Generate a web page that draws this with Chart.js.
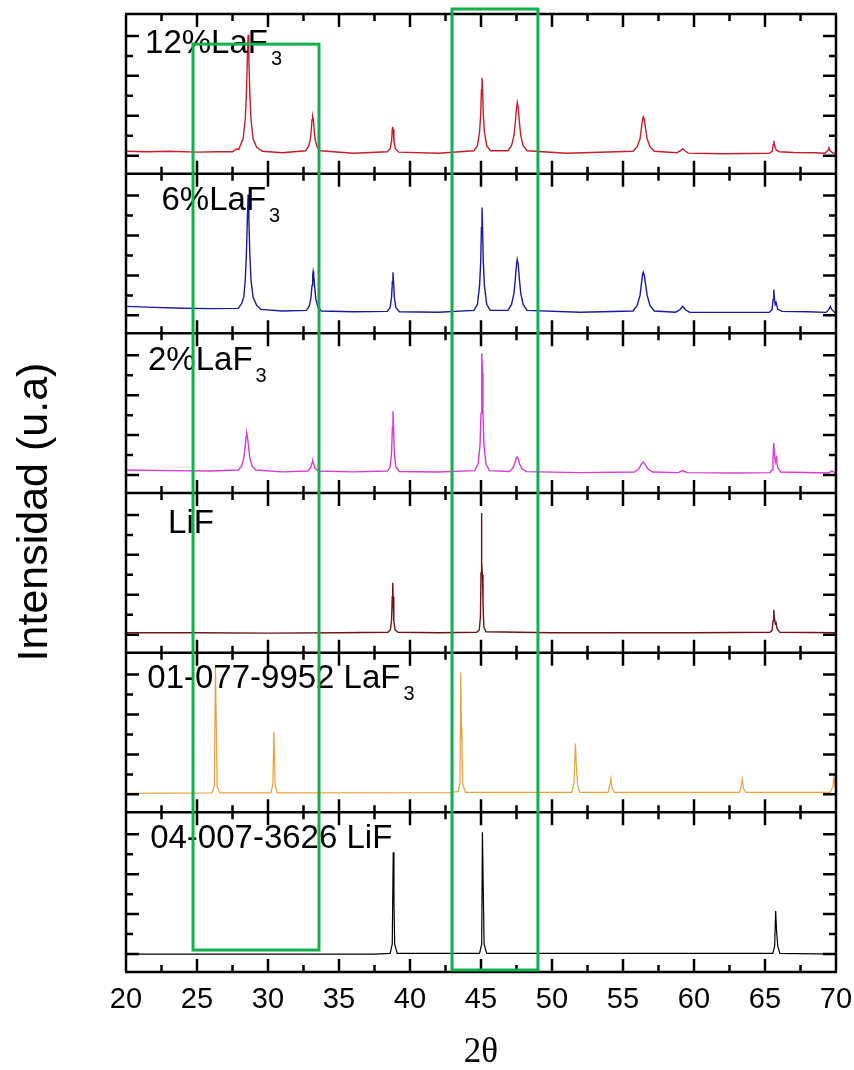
<!DOCTYPE html>
<html>
<head>
<meta charset="utf-8">
<script src="https://cdn.jsdelivr.net/npm/chart.js@4.4.0/dist/chart.umd.min.js"></script>
<style>
  html, body { margin: 0; padding: 0; background: #fff; }
  #wrap { width: 854px; height: 1070px; }
</style>
</head>
<body>
<div id="wrap"><canvas id="xrd" width="854" height="1070"></canvas></div>
<script>
// XRD patterns: 2theta vs intensity, each panel in its own units (baseline ~1, panel top = 8)
const xMin = 20, xMax = 70, xStep = 5;
const panelNames = ["12%LaF", "6%LaF", "2%LaF", "LiF", "01-077-9952 LaF", "04-007-3626 LiF"];
const panelSubs = ["3", "3", "3", "", "3", ""];
const panelColors = ["#c41e2a", "#1a1a9c", "#d43cd4", "#6e1414", "#e9a23e", "#000000"];

const lafe12 = [[20,1.12],[21.5,1.1],[23,1.12],[25,1.08],[26.5,1.1],[27.5,1.1],[27.8,1.25],[27.95,1.22],
  [28.0,1.32],[28.25,1.75],[28.4,2.75],[28.48,4.0],[28.55,5.85],[28.6,6.96],[28.65,5.85],[28.72,4.0],[28.8,2.75],[28.95,1.75],[29.2,1.32],[29.6,1.12],
  [31,1.05],[32.65,1.15],[32.85,1.35],[32.98,1.7],[33.05,2.2],[33.1,2.7],[33.15,2.86],[33.2,2.7],[33.25,2.2],[33.32,1.7],[33.45,1.35],[33.7,1.15],
  [36,1.02],[38.4,1.1],[38.6,1.25],[38.7,1.6],[38.75,2.2],[38.78,2.35],[38.82,2.2],[38.87,1.6],[38.97,1.25],[39.2,1.08],
  [42,1.02],[44.5,1.15],[44.75,1.4],[44.9,2.1],[44.98,3.0],[45.03,4.2],[45.07,4.8],[45.11,4.2],[45.16,3.0],[45.24,2.1],[45.4,1.4],[45.65,1.15],
  [46.9,1.15],[47.15,1.4],[47.32,1.9],[47.42,2.6],[47.5,3.3],[47.56,3.56],[47.62,3.3],[47.7,2.6],[47.8,1.9],[47.97,1.4],[48.25,1.15],
  [51,1.02],[55.7,1.12],[56.0,1.35],[56.2,1.75],[56.3,2.3],[56.38,2.75],[56.43,2.85],[56.5,2.7],[56.58,2.3],[56.7,1.75],[56.9,1.35],[57.2,1.12],
  [58.8,1.05],[59.05,1.15],[59.2,1.25],[59.35,1.15],[59.6,1.03],[62,1.0],
  [65.3,1.02],[65.5,1.12],[65.58,1.45],[65.63,1.65],[65.68,1.4],[65.78,1.2],[66.0,1.1],[67,1.06],[68.5,1.05],
  [69.2,1.02],[69.42,1.15],[69.5,1.3],[69.58,1.15],[69.8,1.03],[70,1.02]];
const lafe6 = [[20,1.35],[22,1.3],[24,1.26],[26,1.24],[27.9,1.25],
  [28.15,1.5],[28.3,1.85],[28.4,2.7],[28.48,4.0],[28.55,5.8],[28.6,6.96],[28.65,5.8],[28.72,4.0],[28.8,2.7],[28.95,1.8],[29.2,1.4],[29.5,1.2],
  [31,1.12],[32.7,1.15],[32.9,1.35],[33.02,1.75],[33.1,2.4],[33.15,2.95],[33.18,3.1],[33.22,2.9],[33.28,2.4],[33.36,1.75],[33.5,1.35],[33.75,1.12],
  [36,1.08],[38.4,1.1],[38.6,1.3],[38.7,1.8],[38.76,2.6],[38.8,3.06],[38.84,2.6],[38.9,1.8],[39.0,1.3],[39.25,1.08],
  [42,1.06],[44.5,1.15],[44.75,1.45],[44.9,2.4],[44.98,3.6],[45.03,5.3],[45.07,6.3],[45.11,5.3],[45.16,3.6],[45.24,2.4],[45.4,1.45],[45.65,1.15],
  [46.9,1.15],[47.15,1.45],[47.32,2.0],[47.42,2.75],[47.5,3.45],[47.55,3.7],[47.62,3.45],[47.7,2.75],[47.8,2.0],[47.97,1.45],[48.25,1.15],
  [52,1.06],[55.7,1.12],[56.0,1.4],[56.2,1.9],[56.3,2.5],[56.38,2.95],[56.43,3.06],[56.5,2.9],[56.58,2.5],[56.7,1.9],[56.9,1.4],[57.2,1.12],
  [58.7,1.06],[59.0,1.18],[59.2,1.35],[59.4,1.18],[59.7,1.05],[63,1.05],
  [65.3,1.05],[65.5,1.2],[65.57,1.7],[65.62,2.2],[65.67,1.7],[65.72,1.45],[65.78,1.55],[65.9,1.2],[66.2,1.1],[68,1.08],
  [69.3,1.05],[69.5,1.2],[69.6,1.35],[69.7,1.2],[69.9,1.05],[70,1.05]];
const lafe2 = [[20,1.15],[23,1.12],[26,1.1],[27.9,1.15],
  [28.15,1.35],[28.3,1.75],[28.4,2.4],[28.46,2.85],[28.5,3.0],[28.55,2.85],[28.62,2.4],[28.72,1.75],[28.88,1.35],[29.15,1.15],
  [31,1.06],[32.8,1.1],[33.0,1.25],[33.1,1.5],[33.15,1.6],[33.2,1.5],[33.3,1.25],[33.55,1.1],
  [36,1.06],[38.4,1.1],[38.6,1.3],[38.7,2.0],[38.76,3.3],[38.8,4.1],[38.84,3.3],[38.9,2.0],[39.0,1.3],[39.25,1.08],
  [42,1.05],[44.55,1.12],[44.8,1.45],[44.93,2.4],[45.0,4.0],[45.04,6.0],[45.07,7.0],[45.1,6.0],[45.14,4.0],[45.21,2.4],[45.35,1.45],[45.6,1.12],
  [47.0,1.08],[47.25,1.25],[47.4,1.55],[47.5,1.78],[47.55,1.8],[47.62,1.7],[47.72,1.45],[47.9,1.2],[48.2,1.07],
  [52,1.02],[55.8,1.05],[56.1,1.2],[56.3,1.45],[56.43,1.55],[56.55,1.45],[56.75,1.2],[57.1,1.05],
  [58.9,1.02],[59.2,1.12],[59.5,1.02],[63,1.0],
  [65.35,1.02],[65.5,1.15],[65.56,1.7],[65.62,2.5],[65.67,1.9],[65.73,1.55],[65.8,1.75],[65.88,1.3],[66.1,1.05],
  [69.45,1.0],[69.7,1.1],[69.95,1.02],[70,1.0]];
const lif = [[20,1.0],[25,1.0],[30,0.98],[35,1.0],
  [38.45,1.02],[38.62,1.15],[38.7,1.6],[38.75,2.8],[38.78,3.5],[38.81,2.8],[38.86,1.6],[38.95,1.15],[39.15,1.02],
  [42,1.0],[44.7,1.02],[44.88,1.15],[44.96,1.8],[45.0,4.0],[45.03,7.0],[45.06,4.5],[45.1,3.9],[45.14,2.5],[45.2,1.3],[45.35,1.05],
  [50,1.0],[55,1.0],[60,1.0],
  [65.35,1.02],[65.5,1.12],[65.57,1.6],[65.62,2.15],[65.67,1.7],[65.73,1.45],[65.78,1.5],[65.85,1.2],[66.05,1.02],[70,1.0]];
const refLaF3 = [[20,0.95],[26.05,0.97],[26.22,1.3],[26.3,7.3],[26.36,4.25],[26.42,1.3],[26.6,0.97],
  [30.2,0.97],[30.34,1.4],[30.42,4.05],[30.5,1.4],[30.65,0.97],
  [42.8,0.98],[43.4,1.05],[43.52,1.5],[43.58,7.0],[43.62,4.25],[43.66,3.3],[43.72,1.4],[43.9,1.0],
  [51.4,1.0],[51.55,1.5],[51.65,3.45],[51.72,2.25],[51.8,1.4],[51.95,1.0],
  [53.95,1.0],[54.08,1.4],[54.15,1.7],[54.22,1.25],[54.4,1.0],
  [63.2,1.0],[63.32,1.3],[63.4,1.65],[63.48,1.2],[63.65,1.0],
  [69.6,1.0],[69.78,1.3],[69.85,1.8],[69.92,1.3],[70,1.1]];
const refLiF = [[20,0.9],[37.5,0.9],[38.6,0.93],[38.75,1.4],[38.82,6.0],[38.87,3.6],[38.92,1.4],[39.1,0.93],
  [44.9,0.93],[45.05,1.4],[45.1,7.0],[45.16,4.1],[45.22,1.4],[45.4,0.93],
  [65.55,0.93],[65.68,1.3],[65.75,3.05],[65.82,2.0],[65.9,1.3],[66.05,0.93],[70,0.9]];

const series = [lafe12, lafe6, lafe2, lif, refLaF3, refLiF];
const PANEL = 8;             // height of one panel in y units
const nPanels = series.length;

// green highlight boxes (2theta range, y units of the whole stack)
const boxes = [
  { x0: 24.72, x1: 33.59, y0: 1.1, y1: 46.49 },
  { x0: 42.96, x1: 49.01, y0: 0.1, y1: 48.25 }
];

const datasets = series.map((s, i) => ({
  label: panelNames[i] + panelSubs[i],
  data: s.map(p => ({ x: p[0], y: p[1] + (nPanels - 1 - i) * PANEL })),
  borderColor: panelColors[i],
  borderWidth: i < 4 ? 1.4 : 1.2,
  pointRadius: 0,
  showLine: true,
  tension: 0
}));

const framePlugin = {
  id: 'frame',
  afterDatasetsDraw(chart) {
    const { ctx, chartArea: a, scales: { x, y } } = chart;
    ctx.save();
    ctx.strokeStyle = '#000';
    ctx.lineWidth = 2.5;
    ctx.lineCap = 'butt';

    for (let k = 0; k < nPanels; k++) {
      const bot = y.getPixelForValue(k * PANEL);
      const top = y.getPixelForValue((k + 1) * PANEL);
      // y ticks, inward on both sides
      for (let j = 0; j <= 6; j++) {
        const py = y.getPixelForValue(k * PANEL + 0.9 + j);
        const len = j % 2 === 0 ? 13 : 7;
        ctx.beginPath();
        ctx.moveTo(a.left, py); ctx.lineTo(a.left + len, py);
        ctx.moveTo(a.right, py); ctx.lineTo(a.right - len, py);
        ctx.stroke();
      }
      // x ticks, inward from top and bottom edges
      for (let v = xMin + 2.5; v < xMax; v += 2.5) {
        const px = x.getPixelForValue(v);
        const len = v % 5 === 0 ? 13 : 7;
        ctx.beginPath();
        ctx.moveTo(px, bot); ctx.lineTo(px, bot - len);
        ctx.moveTo(px, top); ctx.lineTo(px, top + len);
        ctx.stroke();
      }
    }

    // panel borders
    for (let k = 0; k <= nPanels; k++) {
      const py = y.getPixelForValue(k * PANEL);
      ctx.beginPath(); ctx.moveTo(a.left - 1, py); ctx.lineTo(a.right + 1, py); ctx.stroke();
    }
    ctx.beginPath();
    ctx.moveTo(a.left, a.top); ctx.lineTo(a.left, a.bottom);
    ctx.moveTo(a.right, a.top); ctx.lineTo(a.right, a.bottom);
    ctx.stroke();

    // panel labels
    const labelX = [21.34, 22.5, 21.55, 22.96, 21.5, 21.7];
    const labelDy = [39, 36, 37, 40, 35, 36];
    ctx.fillStyle = '#000';
    ctx.textBaseline = 'alphabetic';
    ctx.textAlign = 'left';
    panelNames.forEach((name, i) => {
      const top = y.getPixelForValue((nPanels - i) * PANEL);
      const px = x.getPixelForValue(labelX[i]);
      const py = top + labelDy[i];
      ctx.font = '33px "Liberation Sans", Arial, sans-serif';
      ctx.fillText(name, px, py);
      if (panelSubs[i]) {
        const w = ctx.measureText(name).width;
        ctx.font = '20px "Liberation Sans", Arial, sans-serif';
        ctx.fillText(panelSubs[i], px + w + 3, py + 12);
      }
    });

    // y axis title
    ctx.save();
    ctx.translate(35, (a.top + a.bottom) / 2 + 19);
    ctx.rotate(-Math.PI / 2);
    ctx.textAlign = 'center';
    ctx.textBaseline = 'middle';
    ctx.font = '43px "Liberation Sans", Arial, sans-serif';
    ctx.fillText('Intensidad (u.a)', 0, 0);
    ctx.restore();

    // green boxes
    ctx.strokeStyle = '#12b04e';
    ctx.lineWidth = 3;
    boxes.forEach(b => {
      const x0 = x.getPixelForValue(b.x0), x1 = x.getPixelForValue(b.x1);
      const y0 = y.getPixelForValue(b.y0), y1 = y.getPixelForValue(b.y1);
      ctx.strokeRect(x0, y1, x1 - x0, y0 - y1);
    });
    ctx.restore();
  }
};

new Chart(document.getElementById('xrd'), {
  type: 'scatter',
  data: { datasets },
  options: {
    responsive: false,
    animation: false,
    layout: { padding: { left: 126, right: 18, top: 14, bottom: 0 } },
    plugins: { legend: { display: false }, tooltip: { enabled: false } },
    scales: {
      x: {
        type: 'linear',
        min: xMin, max: xMax,
        border: { display: false },
        grid: { display: false, drawTicks: false },
        ticks: {
          stepSize: xStep,
          padding: 11,
          color: '#000',
          font: { family: '"Liberation Sans", Arial, sans-serif', size: 29 }
        },
        title: {
          display: true,
          text: '2θ',
          color: '#000',
          padding: { top: 0, bottom: 0 },
          font: { family: '"Liberation Serif", "Times New Roman", serif', size: 35, lineHeight: 1.0 }
        },
        afterFit(scale) {
          scale.height = 98;
          scale.paddingLeft = 0;
          scale.paddingRight = 0;
        }
      },
      y: {
        type: 'linear',
        display: false,
        min: 0, max: nPanels * PANEL
      }
    }
  },
  plugins: [framePlugin]
});
</script>
</body>
</html>
